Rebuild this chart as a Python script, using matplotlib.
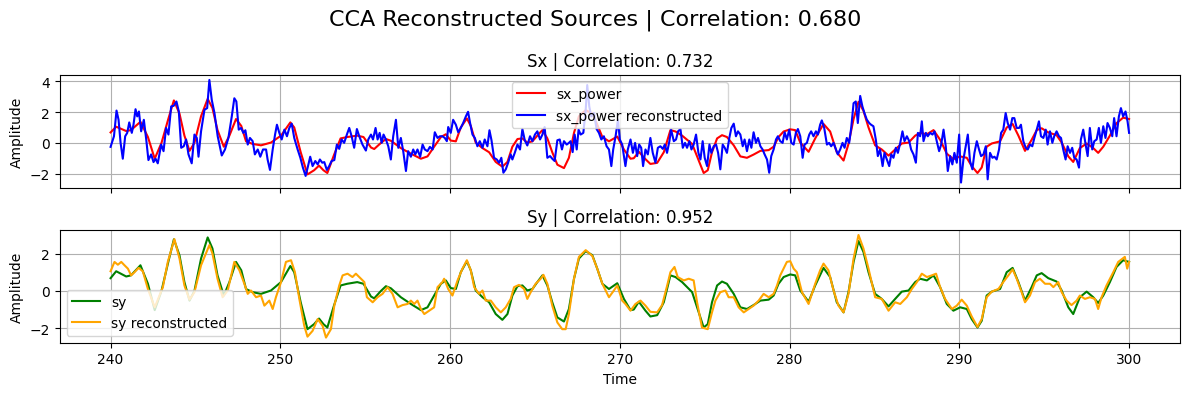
import matplotlib
matplotlib.use("Agg")
import matplotlib.pyplot as plt
from matplotlib.ticker import MultipleLocator

# ---- smooth source signal (sx_power / sy look identical) ----
sy_t = [240.0, 240.33, 240.92, 241.2, 241.76, 242.2, 242.6, 243.0, 243.4, 243.73, 244.06, 244.35,
        244.65, 244.94, 245.33, 245.72, 246.0, 246.3, 246.67, 247.0, 247.39, 247.7, 247.98, 248.37,
        248.86, 249.45, 250.04, 250.59, 250.82, 251.2, 251.6, 251.99, 252.28, 252.54, 252.77, 253.16,
        253.55, 253.94, 254.53, 254.9, 255.34, 255.53, 255.93, 256.22, 256.51, 257.1, 257.69, 258.28,
        258.67, 259.06, 259.46, 259.75, 260.04, 260.34, 260.63, 260.99, 261.22, 261.51, 261.91, 262.3,
        262.69, 263.08, 263.38, 263.67, 263.97, 264.26, 264.55, 264.85, 265.14, 265.44, 265.73, 266.02,
        266.32, 266.71, 267.0, 267.3, 267.59, 267.99, 268.38, 268.67, 268.97, 269.36, 269.85, 270.24,
        270.63, 270.82, 271.12, 271.51, 271.8, 272.2, 272.59, 272.98, 273.28, 273.67, 274.26, 274.65,
        274.94, 275.18, 275.43, 275.73, 276.02, 276.31, 276.71, 277.1, 277.49, 277.88, 278.28, 278.77,
        279.06, 279.35, 279.65, 280.04, 280.33, 280.63, 281.12, 281.51, 282.0, 282.39, 282.78, 283.18,
        283.47, 283.77, 284.06, 284.35, 284.65, 285.04, 285.43, 285.83, 286.22, 286.61, 287.01, 287.4,
        287.69, 288.09, 288.48, 288.87, 289.26, 289.65, 290.05, 290.44, 290.73, 291.07, 291.32, 291.61,
        291.91, 292.4, 292.79, 293.14, 293.48, 293.87, 294.26, 294.56, 294.85, 295.24, 295.73, 296.03,
        296.42, 296.71, 297.1, 297.5, 297.89, 298.18, 298.48, 298.87, 299.26, 299.65, 300.0]
sy_v = [0.68, 1.05, 0.77, 0.83, 1.37, 0.38, -1.03, 0.0, 1.55, 2.76, 1.9, 0.47,
        -0.52, 0.0, 1.73, 2.86, 2.27, 0.83, -0.25, 0.47, 1.55, 1.1, 0.1, -0.07,
        -0.16, 0.02, 0.47, 1.33, 1.0, -0.61, -2.05, -1.78, -1.48, -1.78, -1.96, -0.79,
        0.29, 0.38, 0.47, 0.38, -0.3, -0.4, 0.0, 0.25, 0.14, -0.34, -0.7, -1.03,
        -0.88, -0.25, 0.38, 0.56, 0.15, 0.1, 1.0, 1.59, 1.1, 0.02, -0.34, -0.61,
        -1.24, -1.55, -1.24, -0.25, 0.25, 0.29, 0.02, 0.1, 0.47, 0.83, 0.29, -0.61,
        -1.42, -1.64, -0.97, 0.65, 1.73, 2.13, 1.91, 1.19, 0.38, 0.1, 0.41, -0.43,
        -1.03, -1.0, -0.58, -1.06, -1.37, -1.3, -0.61, 0.83, 0.74, 0.47, -0.07, -1.15,
        -1.96, -1.78, -0.61, 0.29, 0.5, 0.38, -0.16, -0.88, -0.97, -0.76, -0.52, -0.47,
        -0.25, 0.38, 0.74, 0.88, 0.83, 0.02, -0.58, 0.29, 1.23, 0.74, -0.61, -1.15,
        -0.07, 1.55, 2.67, 2.09, 1.0, -0.16, -0.43, -0.83, -0.43, -0.04, 0.02, 0.47,
        0.65, 0.56, 0.83, 0.2, -0.7, -1.06, -0.88, -0.97, -1.51, -1.96, -1.6, -0.25,
        -0.04, 0.1, 1.0, 1.23, 0.47, -0.52, 0.2, 0.83, 0.95, 0.68, 0.5, 0.02,
        -0.88, -1.24, -0.34, -0.04, -0.34, -0.65, -0.25, 0.47, 1.28, 1.64, 1.55]
sx_power_t = sy_t
sx_power_v = sy_v

# ---- sy reconstructed ----
syr_t = [240.0, 240.23, 240.43, 240.63, 240.82, 241.02, 241.21, 241.41, 241.65, 241.9, 242.2, 242.6,
         242.88, 243.08, 243.37, 243.76, 244.06, 244.35, 244.65, 244.94, 245.33, 245.82, 246.0, 246.3,
         246.6, 246.9, 247.29, 247.59, 247.88, 248.08, 248.27, 248.57, 248.86, 249.06, 249.35, 249.55,
         249.74, 250.04, 250.33, 250.63, 250.86, 251.12, 251.41, 251.6, 251.9, 252.2, 252.49, 252.69,
         252.98, 253.18, 253.47, 253.67, 253.96, 254.25, 254.45, 254.75, 254.95, 255.1, 255.44, 255.73,
         256.02, 256.32, 256.61, 256.91, 257.2, 257.5, 257.69, 257.89, 258.08, 258.28, 258.48, 258.77,
         259.06, 259.26, 259.55, 259.65, 259.89, 260.14, 260.44, 260.73, 260.99, 261.22, 261.42, 261.71,
         261.91, 262.1, 262.4, 262.69, 262.99, 263.28, 263.57, 263.77, 264.06, 264.36, 264.55, 264.75,
         265.04, 265.34, 265.5, 265.73, 266.02, 266.32, 266.61, 266.81, 267.0, 267.3, 267.59, 267.99,
         268.38, 268.67, 268.97, 269.36, 269.65, 269.85, 270.14, 270.33, 270.63, 270.92, 271.22, 271.51,
         271.8, 272.2, 272.49, 272.79, 272.98, 273.22, 273.41, 273.77, 274.06, 274.35, 274.55, 274.84,
         275.18, 275.43, 275.63, 275.92, 276.22, 276.41, 276.71, 277.0, 277.3, 277.59, 277.88, 278.18,
         278.47, 278.77, 279.06, 279.26, 279.45, 279.84, 280.04, 280.24, 280.43, 280.73, 281.12, 281.51,
         281.8, 282.0, 282.29, 282.59, 282.88, 283.18, 283.47, 283.77, 284.06, 284.35, 284.65, 285.04,
         285.43, 285.83, 286.22, 286.52, 286.91, 287.2, 287.5, 287.79, 288.09, 288.38, 288.63, 288.87,
         289.16, 289.56, 289.85, 290.14, 290.44, 290.73, 291.07, 291.32, 291.61, 291.91, 292.3, 292.59,
         292.89, 293.14, 293.38, 293.67, 293.87, 294.16, 294.46, 294.75, 295.05, 295.34, 295.54, 295.83,
         296.03, 296.32, 296.61, 296.91, 297.1, 297.4, 297.69, 297.99, 298.18, 298.38, 298.67, 299.07,
         299.36, 299.75, 299.89, 300.0]
syr_v = [1.05, 1.55, 1.4, 1.55, 1.37, 1.19, 0.83, 1.0, 1.23, 1.05, 0.1, -0.88,
         -0.25, 0.2, 1.55, 2.77, 1.73, 0.29, -0.47, -0.07, 1.37, 2.45, 2.0, 0.65,
         -0.34, 0.02, 1.55, 1.1, 0.38, -0.16, 0.02, -0.34, -0.25, -0.79, -0.52, -0.97,
         -0.34, 0.47, 1.55, 1.64, 1.0, -0.43, -1.87, -2.45, -2.14, -1.51, -1.87, -2.5,
         -2.05, -0.79, 0.29, 0.83, 0.92, 0.74, 0.92, 0.65, 0.47, -0.34, -0.61, -0.34,
         -0.16, 0.2, -0.16, -0.88, -0.76, -0.7, -0.52, -0.7, -0.52, -0.97, -1.24, -1.06,
         -0.88, 0.2, 0.47, 0.65, 0.1, -0.25, 0.56, 1.19, 1.64, 1.1, 0.2, -0.16,
         0.02, -0.52, -0.52, -0.88, -1.15, -0.88, -0.43, 0.2, 0.32, 0.1, -0.43, -0.07,
         0.38, 0.65, 0.86, 0.38, -0.79, -1.69, -2.05, -2.05, -1.24, 0.65, 1.82, 2.18,
         1.87, 1.19, 0.38, -0.34, 0.02, 0.29, -0.52, -0.7, -1.06, -0.7, -0.52, -0.79,
         -1.12, -1.15, -0.76, 0.29, 1.0, 1.28, 0.74, 0.56, 0.65, 0.56, -0.61, -1.96,
         -2.05, -1.15, -0.52, -0.07, 0.02, -0.34, -0.34, -0.88, -1.15, -0.97, -0.79, -0.52,
         -0.16, -0.34, -0.16, 0.29, 0.83, 1.55, 1.59, 1.19, 1.0, -0.07, -0.7, 0.38,
         1.1, 1.46, 1.1, 0.02, -0.79, -1.15, -0.16, 1.73, 2.99, 2.27, 1.19, -0.34,
         -0.43, -1.06, -0.61, -0.7, -0.34, 0.1, 0.47, 0.92, 0.74, 0.83, 0.92, 0.2,
         -0.43, -0.97, -0.79, -0.47, -0.79, -1.37, -1.93, -1.51, -0.34, -0.04, 0.1, 0.47,
         0.83, 1.15, 0.65, -0.07, -0.61, -0.25, 0.47, 0.65, 0.38, 0.38, 0.2, 0.47,
         -0.07, -0.52, -0.76, -0.52, -0.25, -0.43, -0.34, -0.43, -0.97, -0.34, 0.29, 1.0,
         1.55, 1.82, 1.19, 1.55]

# ---- sx_power reconstructed ----
sxr_t = [240.0, 240.2, 240.35, 240.47, 240.59, 240.72, 240.86, 240.98, 241.1, 241.25, 241.35, 241.47,
         241.57, 241.67, 241.8, 241.96, 242.1, 242.23, 242.39, 242.53, 242.65, 242.78, 242.98, 243.12,
         243.27, 243.41, 243.57, 243.72, 243.88, 244.02, 244.16, 244.31, 244.45, 244.59, 244.78, 244.94,
         245.08, 245.18, 245.33, 245.53, 245.69, 245.82, 245.96, 246.12, 246.31, 246.55, 246.74, 246.94,
         247.14, 247.29, 247.41, 247.55, 247.69, 247.82, 247.94, 248.08, 248.21, 248.37, 248.5, 248.67,
         248.82, 248.98, 249.16, 249.25, 249.39, 249.55, 249.69, 249.8, 249.94, 250.08, 250.24, 250.39,
         250.53, 250.67, 250.82, 251.02, 251.18, 251.33, 251.49, 251.61, 251.76, 251.9, 252.06, 252.2,
         252.33, 252.47, 252.59, 252.74, 252.88, 253.02, 253.18, 253.33, 253.47, 253.61, 253.76, 253.92,
         254.06, 254.2, 254.35, 254.51, 254.65, 254.84, 255.04, 255.18, 255.34, 255.46, 255.61, 255.73,
         255.85, 255.97, 256.08, 256.22, 256.36, 256.51, 256.65, 256.81, 256.95, 257.1, 257.24, 257.4,
         257.53, 257.69, 257.83, 257.95, 258.08, 258.24, 258.38, 258.51, 258.67, 258.81, 258.97, 259.1,
         259.26, 259.4, 259.55, 259.69, 259.81, 259.89, 260.04, 260.18, 260.34, 260.48, 260.63, 260.77,
         260.93, 261.06, 261.18, 261.32, 261.46, 261.61, 261.75, 261.91, 262.04, 262.2, 262.32, 262.44,
         262.59, 262.75, 262.89, 263.02, 263.14, 263.28, 263.42, 263.57, 263.67, 263.81, 263.97, 264.12,
         264.26, 264.4, 264.55, 264.71, 264.85, 265.0, 265.14, 265.3, 265.44, 265.57, 265.73, 265.89,
         266.02, 266.16, 266.32, 266.46, 266.59, 266.71, 266.87, 267.0, 267.1, 267.22, 267.34, 267.46,
         267.57, 267.69, 267.85, 267.99, 268.08, 268.2, 268.32, 268.48, 268.63, 268.77, 268.91, 269.06,
         269.22, 269.36, 269.5, 269.61, 269.75, 269.89, 270.0, 270.14, 270.33, 270.47, 270.63, 270.77,
         270.9, 271.02, 271.14, 271.26, 271.37, 271.51, 271.65, 271.8, 271.94, 272.1, 272.24, 272.39,
         272.53, 272.65, 272.78, 272.92, 273.02, 273.18, 273.31, 273.43, 273.57, 273.71, 273.84, 273.96,
         274.1, 274.22, 274.35, 274.49, 274.63, 274.75, 274.88, 275.0, 275.14, 275.28, 275.39, 275.53,
         275.67, 275.79, 275.92, 276.06, 276.18, 276.31, 276.45, 276.57, 276.71, 276.84, 276.96, 277.1,
         277.24, 277.35, 277.49, 277.63, 277.75, 277.88, 278.02, 278.14, 278.28, 278.41, 278.53, 278.67,
         278.8, 278.92, 279.06, 279.2, 279.31, 279.45, 279.59, 279.71, 279.84, 279.98, 280.1, 280.24,
         280.37, 280.49, 280.63, 280.77, 280.88, 281.02, 281.16, 281.27, 281.41, 281.55, 281.67, 281.8,
         281.9, 282.04, 282.2, 282.33, 282.45, 282.59, 282.73, 282.84, 282.98, 283.12, 283.24, 283.37,
         283.51, 283.63, 283.77, 283.9, 284.02, 284.16, 284.29, 284.41, 284.55, 284.69, 284.8, 284.94,
         285.08, 285.2, 285.33, 285.48, 285.59, 285.73, 285.87, 285.99, 286.12, 286.26, 286.38, 286.52,
         286.65, 286.77, 286.91, 287.05, 287.16, 287.3, 287.44, 287.56, 287.69, 287.79, 287.89, 288.03,
         288.14, 288.28, 288.42, 288.54, 288.67, 288.81, 288.93, 289.07, 289.2, 289.32, 289.46, 289.59,
         289.71, 289.85, 289.99, 290.1, 290.24, 290.38, 290.5, 290.63, 290.77, 290.89, 291.03, 291.16,
         291.28, 291.42, 291.56, 291.67, 291.81, 291.95, 292.07, 292.2, 292.34, 292.46, 292.59, 292.73,
         292.85, 292.99, 293.12, 293.24, 293.38, 293.52, 293.63, 293.77, 293.91, 294.03, 294.17, 294.3,
         294.42, 294.56, 294.69, 294.81, 294.95, 295.09, 295.2, 295.34, 295.48, 295.59, 295.73, 295.87,
         295.99, 296.12, 296.26, 296.38, 296.52, 296.65, 296.77, 296.91, 297.05, 297.16, 297.3, 297.44,
         297.56, 297.69, 297.83, 297.95, 298.09, 298.22, 298.34, 298.48, 298.61, 298.73, 298.87, 299.01,
         299.12, 299.26, 299.4, 299.52, 299.65, 299.79, 299.91, 300.0]
sxr_v = [-0.26, 0.43, 2.1, 1.5, 0.0, -1.03, 0.43, 0.65, 1.33, 0.65, 1.18, 2.19,
         1.72, 2.04, 0.75, 1.5, 0.22, -1.12, -0.75, -1.25, -1.03, -1.33, -0.11, -0.54,
         0.97, 0.54, 2.37, 2.41, 2.69, 2.04, -0.32, -0.22, 0.22, -0.75, -1.33, 0.54,
         0.32, -0.9, 0.75, 2.15, 2.26, 4.09, 2.8, 1.94, 0.43, -0.82, -0.43, 0.32,
         1.72, 2.9, 2.69, 0.86, 0.97, 0.65, 0.82, -0.11, 0.32, 0.11, -0.75, -0.43,
         -0.9, -0.43, -0.43, -1.08, -1.76, -0.43, 0.54, 1.18, 0.65, 0.22, 0.86, 0.43,
         0.97, 1.25, 0.32, -0.43, -0.97, -1.61, -2.15, -1.61, -0.9, -1.51, -1.18, -1.4,
         -1.08, -1.29, -1.25, -1.76, -1.51, -1.18, -1.12, -0.11, -0.39, 0.22, 0.0, 0.54,
         0.97, 0.43, -0.32, 0.9, 0.43, -0.11, -0.5, 0.22, 0.54, 0.22, 0.97, 0.22,
         0.65, 0.0, 0.54, 0.22, -0.22, -1.08, 0.43, 1.5, -0.32, 0.32, -0.54, -1.83,
         -0.54, -0.9, -0.43, -0.75, -0.43, -0.9, -0.11, -0.43, -0.54, -0.26, -0.43, 0.69,
         0.32, 0.43, 0.43, 0.32, 0.11, 1.03, 0.65, 1.5, 1.18, 0.69, 0.97, 1.29,
         1.72, 2.02, 1.29, 0.54, 0.32, -0.22, 0.11, -0.32, 0.22, -0.22, 0.82, 0.17,
         -0.97, -1.08, -1.29, -0.97, -1.94, -1.72, -1.29, -0.75, -1.08, -0.65, -0.11, -0.43,
         0.9, 0.17, -0.17, 0.43, 0.11, 0.54, 0.75, 0.22, 0.54, 1.03, -0.97, -0.86,
         -1.03, -1.18, 0.17, 0.22, -0.43, 0.11, -0.11, 0.0, 0.11, -0.6, 0.54, -0.43,
         0.86, 0.54, 0.65, 2.15, 3.76, 2.37, 1.72, 1.94, 0.9, 0.65, 0.22, 0.43,
         -0.22, -0.43, -1.51, -0.43, 0.43, 1.5, 0.22, -0.11, -1.51, -0.43, 0.22, -0.65,
         0.0, -0.86, -0.11, -0.32, -1.51, -0.43, -0.75, 0.32, -0.65, -1.29, -0.32, -0.22,
         -0.39, -0.11, -0.65, 0.11, 0.86, 0.11, 0.22, 0.75, 0.9, -0.32, 0.0, -0.32,
         0.11, -0.43, -0.11, 0.54, -0.65, -1.08, 0.11, -0.97, -1.51, -0.11, -0.65, -0.22,
         -0.11, -0.65, -1.72, -0.11, -0.32, -0.65, 0.32, 0.97, 1.25, 0.43, 0.75, 0.54,
         -0.22, 0.22, -0.54, 0.22, -0.32, 0.69, 0.0, 0.32, -0.22, -0.43, -0.75, -1.08,
         -1.94, -0.86, -0.43, 0.22, 0.43, 0.11, 0.0, 0.69, 0.22, 0.86, 0.0, -0.11,
         0.65, 0.9, 0.43, -0.97, -0.11, 0.0, 0.54, 0.75, 0.43, 0.75, 0.54, 1.18,
         1.46, 0.97, -0.11, 0.0, -0.22, 0.0, -0.43, -0.75, -0.43, 0.0, -0.32, 0.32,
         0.0, 0.97, 2.58, 2.69, 1.29, 3.05, 2.37, 1.94, 1.51, 1.29, 1.18, 1.08,
         0.22, -0.86, -0.43, -1.51, -0.65, -1.08, -1.51, -0.75, -0.97, -0.32, -0.65, 0.0,
         0.75, 0.11, 0.43, 0.11, -0.43, -0.75, -1.29, 0.65, 0.43, 1.4, 0.11, 0.65,
         0.43, 0.65, 0.54, 0.75, 0.11, -0.54, -0.11, 0.86, -0.22, -1.83, -0.86, -1.4,
         -0.65, -1.29, 0.54, -2.58, -1.08, -0.22, 0.54, -1.18, -1.72, -0.65, 0.11, -0.43,
         -0.86, -0.75, -0.22, -2.37, -0.65, -0.97, -0.9, -1.08, -0.43, 0.65, 0.86, 1.94,
         1.29, 0.86, 1.61, 1.61, 0.97, 0.97, 1.18, 0.11, -0.32, -0.43, -0.11, -0.22,
         0.32, 0.86, 1.4, 0.43, 0.32, 0.86, -0.11, 0.75, 0.0, 0.43, 0.75, 0.43,
         0.32, -0.43, -1.08, -0.22, -0.65, -0.32, -0.97, -1.08, -1.61, 0.22, 0.86, -0.11,
         -0.86, 0.97, -0.43, 0.11, 0.22, 0.97, 0.0, 1.08, 0.32, 1.29, 0.97, 0.43,
         1.61, 0.43, 1.72, 2.26, 1.72, 2.04, 1.4, 0.65]

title_main = "CCA Reconstructed Sources | Correlation: 0.680"
title_x = "Sx | Correlation: 0.732"
title_y = "Sy | Correlation: 0.952"

fig, (ax1, ax2) = plt.subplots(2, 1, figsize=(12, 4), dpi=100, sharex=True)
fig.suptitle(title_main, fontsize=16)

ax1.plot(sx_power_t, sx_power_v, color="red", label="sx_power")
ax1.plot(sxr_t, sxr_v, color="blue", label="sx_power reconstructed")
ax1.set_title(title_x)
ax1.set_ylabel("Amplitude")
ax1.legend(loc="upper center")
ax1.grid(True)
ax1.yaxis.set_major_locator(MultipleLocator(2))

ax2.plot(sy_t, sy_v, color="green", label="sy")
ax2.plot(syr_t, syr_v, color="orange", label="sy reconstructed")
ax2.set_title(title_y)
ax2.set_ylabel("Amplitude")
ax2.set_xlabel("Time")
ax2.legend(loc="lower left")
ax2.grid(True)
ax2.yaxis.set_major_locator(MultipleLocator(2))

fig.tight_layout()
fig.savefig("out.png", dpi=100, bbox_inches="tight")
